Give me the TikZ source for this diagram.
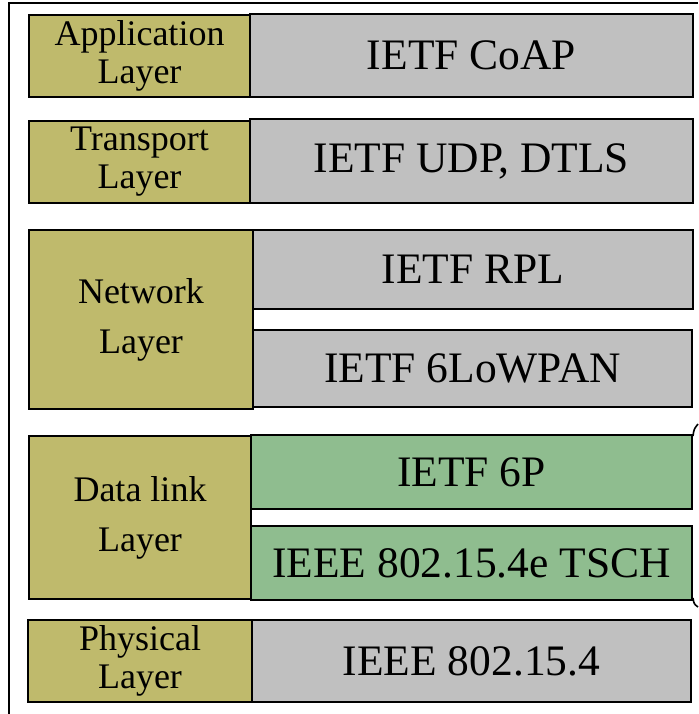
\documentclass[tikz,border=0pt]{standalone}
\usepackage{fontspec}
\setmainfont{Liberation Serif}
\definecolor{olivebox}{RGB}{191,186,108}
\definecolor{graybox}{RGB}{192,192,192}
\definecolor{greenbox}{RGB}{143,189,143}
\tikzset{
  box/.style={draw=black, line width=2.4pt, inner sep=0pt, align=center, text=black},
  lay/.style={box, fill=olivebox, font=\fontsize{36}{38}\selectfont},
  laywide/.style={box, fill=olivebox, font=\fontsize{36}{50}\selectfont},
  prot/.style={box, fill=graybox, font=\fontsize{43.5}{48}\selectfont},
  protg/.style={box, fill=greenbox, font=\fontsize{43.5}{48}\selectfont},
}
\begin{document}
\begin{tikzpicture}[x=1pt, y=-1pt]
\useasboundingbox (0,0) rectangle (698,714);
% outer frame (partly cropped)
\draw[line width=2pt] (9,714) -- (9,3) -- (698,3);
\draw[line width=1.6pt] (693,436) .. controls (694,429) .. (698,424);
\draw[line width=1.6pt] (693,598) .. controls (694,604) .. (698,607);
% Application
\node[prot, minimum width=443, minimum height=83] (coap) at (471.5,55.5) {IETF CoAP};
\node[lay, minimum width=221, minimum height=82] (app) at (139.5,56) {Application\\Layer};
% Transport
\node[prot, minimum width=443, minimum height=84] (udp) at (471.5,161) {IETF UDP, DTLS};
\node[lay, minimum width=221, minimum height=82] (trans) at (139.5,162) {Transport\\Layer};
% Network
\node[prot, minimum width=440, minimum height=79] (rpl) at (473,269.5) {IETF RPL};
\node[prot, minimum width=439, minimum height=77] (lowpan) at (472.5,368.5) {IETF 6LoWPAN};
\node[laywide, minimum width=224, minimum height=179] (net) at (141,319.5) {Network\\Layer};
% Data link
\node[protg, minimum width=441, minimum height=74] (sixp) at (471.5,472) {IETF 6P};
\node[protg, minimum width=441, minimum height=74] (tsch) at (471.5,563) {IEEE 802.15.4e TSCH};
\node[laywide, minimum width=222, minimum height=163] (dl) at (140,517.5) {Data link\\Layer};
% Physical
\node[prot, minimum width=439, minimum height=82] (phyp) at (471.5,661) {IEEE 802.15.4};
\node[lay, minimum width=224, minimum height=82] (phy) at (140,661) {Physical\\Layer};
\end{tikzpicture}
\end{document}
